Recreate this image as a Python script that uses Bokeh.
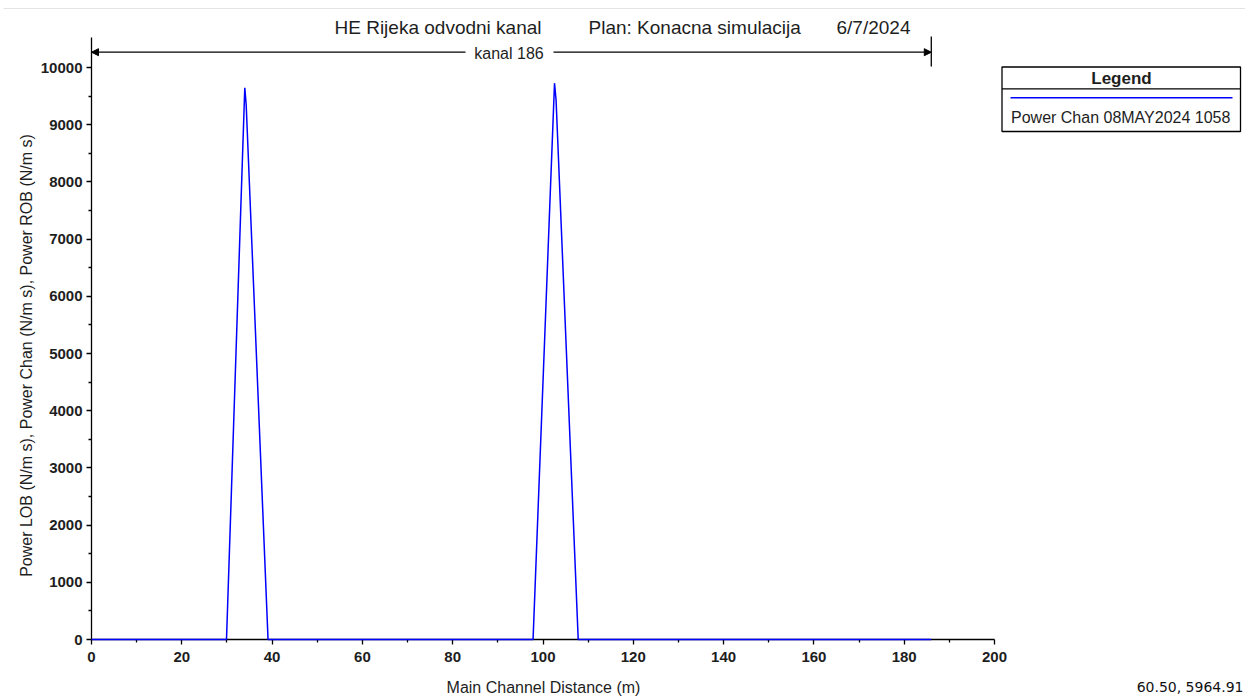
import math
from bokeh.plotting import figure
from bokeh.models import Range1d, FixedTicker, Label, Arrow, NormalHead, BoxAnnotation
from bokeh.embed import file_html
from bokeh.resources import INLINE

# ---------------- data ----------------
distance = [0.0, 29.9, 33.95, 34.26, 39.1, 97.8, 102.55, 102.9, 107.8, 186.0]
power_chan = [0, 0, 9645, 9348, 0, 0, 9726, 9423, 0, 0]

x_ticks = [0, 20, 40, 60, 80, 100, 120, 140, 160, 180, 200]
x_minor = [10, 30, 50, 70, 90, 110, 130, 150, 170, 190]
y_ticks = [0, 1000, 2000, 3000, 4000, 5000, 6000, 7000, 8000, 9000, 10000]
y_minor = [500, 1500, 2500, 3500, 4500, 5500, 6500, 7500, 8500, 9500]

title_parts = ["HE Rijeka odvodni kanal", "Plan: Konacna simulacija", "6/7/2024"]
reach_label = "kanal 186"
reach_start = 0
reach_end = 186
legend_title = "Legend"
legend_label = "Power Chan 08MAY2024 1058"
x_label = "Main Channel Distance (m)"
y_label = "Power LOB (N/m s), Power Chan (N/m s), Power ROB (N/m s)"
cursor_text = "60.50, 5964.91"

# ---------------- layout helpers (canvas pixels -> data) ----------------
W, H = 1245, 696
X0_PX, X200_PX = 91, 994
Y0_PX, Y10K_PX = 639, 67
sx = (X200_PX - X0_PX) / 200.0
sy = (Y0_PX - Y10K_PX) / 10000.0


def dx(px):
    return (px - X0_PX) / sx


def dy(py):
    return (Y0_PX - py) / sy


FONT = "Liberation Sans"
TXT = "#1e1e1e"

p = figure(width=W, height=H, output_backend="svg", toolbar_location=None,
           title=None,
           x_range=Range1d(dx(0), dx(W)), y_range=Range1d(dy(H), dy(0)),
           min_border=0)
p.outline_line_color = None
p.xgrid.visible = False
p.ygrid.visible = False
p.background_fill_color = "white"
p.border_fill_color = "white"

# faint window edge line at the top
p.add_layout(Arrow(x_start=dx(3), y_start=dy(8), x_end=dx(W), y_end=dy(8),
                   line_color="#e4e4e4", line_width=1, end=None))

p.xaxis.fixed_location = 0
p.yaxis.fixed_location = 0
p.xaxis.bounds = (0, 200)
p.xaxis.ticker = FixedTicker(ticks=x_ticks, minor_ticks=x_minor)
p.yaxis.bounds = (0, dy(37))
p.yaxis.ticker = FixedTicker(ticks=y_ticks, minor_ticks=y_minor)
for ax in (p.xaxis, p.yaxis):
    ax.axis_line_color = "black"
    ax.axis_line_width = 1.3
    ax.major_tick_out = 5
    ax.major_tick_in = 0
    ax.minor_tick_out = 3
    ax.minor_tick_in = 0
    ax.major_tick_line_color = "black"
    ax.minor_tick_line_color = "black"
    ax.major_tick_line_width = 1.3
    ax.minor_tick_line_width = 1.3
    ax.major_label_text_font = FONT
    ax.major_label_text_font_size = "15px"
    ax.major_label_text_font_style = "bold"
    ax.major_label_text_color = TXT
p.xaxis.major_label_standoff = 7
p.yaxis.major_label_standoff = 4

# data line
r = p.line(distance, power_chan, line_color="#0000ff", line_width=1.5)
r.level = "overlay"

# title
for part, px in zip(title_parts, [334, 588, 836]):
    p.add_layout(Label(x=dx(px), y=dy(26.5), text=part, text_font=FONT,
                       text_font_size="19px", text_color=TXT,
                       text_baseline="middle", text_align="left"))

# reach arrow
y_arr = dy(51.7)
p.add_layout(Arrow(x_start=dx(465), y_start=y_arr, x_end=reach_start, y_end=y_arr,
                   line_color="black", line_width=1.3,
                   end=NormalHead(size=7, fill_color="black", line_color="black", line_width=1)))
p.add_layout(Arrow(x_start=dx(553), y_start=y_arr, x_end=reach_end, y_end=y_arr,
                   line_color="black", line_width=1.3,
                   end=NormalHead(size=7, fill_color="black", line_color="black", line_width=1)))
p.add_layout(Arrow(x_start=reach_end, y_start=dy(36), x_end=reach_end, y_end=dy(66),
                   line_color="black", line_width=1.3, end=None))
p.add_layout(Label(x=dx(508.5), y=dy(53), text=reach_label,
                   text_font=FONT, text_font_size="16px", text_color=TXT,
                   text_align="center", text_baseline="middle"))

# legend box
p.add_layout(BoxAnnotation(left=dx(1001.5), right=dx(1240), top=dy(66.5), bottom=dy(131),
                           fill_color="white", fill_alpha=1.0,
                           line_color="black", line_alpha=1.0, line_width=1.3,
                           level="overlay"))
p.add_layout(Arrow(x_start=dx(1001.5), y_start=dy(88.3), x_end=dx(1240), y_end=dy(88.3),
                   line_color="black", line_width=1.3, end=None, level="overlay"))
p.add_layout(Arrow(x_start=dx(1010), y_start=dy(97.3), x_end=dx(1232), y_end=dy(97.3),
                   line_color="#0000ff", line_width=1.5, end=None, level="overlay"))
p.add_layout(Label(x=dx(1121), y=dy(77.5), text=legend_title, text_font=FONT,
                   text_font_size="17px", text_font_style="bold", text_color=TXT,
                   text_align="center", text_baseline="middle", level="overlay"))
p.add_layout(Label(x=dx(1010.5), y=dy(116.5), text=legend_label, text_font=FONT,
                   text_font_size="16px", text_color=TXT,
                   text_align="left", text_baseline="middle", level="overlay"))

# axis titles
p.add_layout(Label(x=dx(543), y=dy(686.5), text=x_label, text_font=FONT,
                   text_font_size="16px", text_color=TXT,
                   text_align="center", text_baseline="middle"))
p.add_layout(Label(x=dx(26), y=dy(355), text=y_label, text_font=FONT,
                   text_font_size="16px", text_color=TXT, angle=math.pi / 2,
                   text_align="center", text_baseline="middle"))

# cursor readout
p.add_layout(Label(x=dx(1243), y=dy(686), text=cursor_text, text_font="DejaVu Sans",
                   text_font_size="14px", text_color="#111111",
                   text_align="right", text_baseline="middle"))

open("out.html", "w").write(file_html(p, INLINE))
